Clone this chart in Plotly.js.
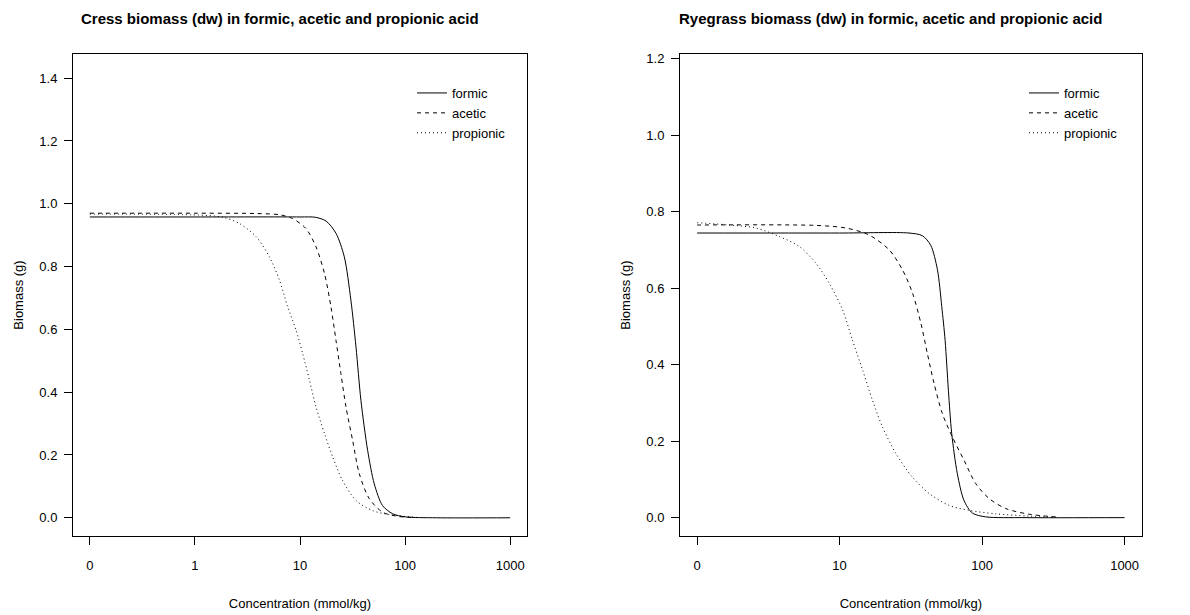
<!DOCTYPE html>
<html>
<head>
<meta charset="utf-8">
<script src="https://cdn.plot.ly/plotly-3.0.1.min.js"></script>
<style>html,body{margin:0;padding:0;background:#fff;}</style>
</head>
<body>
<div id="chart" style="width:1190px;height:615px;"></div>
<script>
// ---------- data ----------
const panelTitles = [
  "Cress biomass (dw) in formic, acetic and propionic acid",
  "Ryegrass biomass (dw) in formic, acetic and propionic acid"
];
const xAxisTitle = "Concentration (mmol/kg)";
const yAxisTitle = "Biomass (g)";
const seriesNames = ["formic", "acetic", "propionic"];

// x tick labels (the "0" dose is drawn one decade below the first non-zero tick)
const cressTickVals = [0.1, 1, 10, 100, 1000];
const cressTickText = ["0", "1", "10", "100", "1000"];
const ryeTickVals = [1, 10, 100, 1000];
const ryeTickText = ["0", "10", "100", "1000"];
const cressZeroPos = 0.1;
const ryeZeroPos = 1;
const cressYTicks = [0, 0.2, 0.4, 0.6, 0.8, 1.0, 1.2, 1.4];
const ryeYTicks = [0, 0.2, 0.4, 0.6, 0.8, 1.0, 1.2];

// Cress
const cressFormicX = [0, 1, 10, 14, 17.7, 22, 26.4, 30.5, 34.1, 38, 44, 50.9, 61, 76, 100, 200, 1000];
const cressFormicY = [0.958, 0.958, 0.958, 0.957, 0.945, 0.906, 0.831, 0.693, 0.544, 0.374, 0.215, 0.108, 0.039, 0.013, 0.003, 0.0, 0.0];
const cressAceticX = [0, 1, 3.8, 6.4, 8.5, 11.4, 14.2, 17.1, 19.7, 22, 24.5, 27.4, 31.7, 36.7, 45.6, 61, 88, 130];
const cressAceticY = [0.970, 0.970, 0.969, 0.965, 0.953, 0.921, 0.863, 0.778, 0.672, 0.565, 0.459, 0.353, 0.246, 0.140, 0.061, 0.018, 0.004, 0.001];
const cressPropX = [0, 1.1, 1.85, 2.66, 3.83, 5.12, 6.37, 7.64, 9.18, 10.6, 12.3, 14.2, 17.1, 20.5, 25.4, 34.1, 49, 70.6, 122];
const cressPropY = [0.967, 0.964, 0.957, 0.937, 0.895, 0.831, 0.757, 0.672, 0.597, 0.523, 0.438, 0.353, 0.268, 0.193, 0.119, 0.055, 0.023, 0.010, 0.002];

// Ryegrass
const ryeFormicX = [0, 10, 30.7, 38.1, 43.6, 48.6, 52.1, 55, 58, 61.2, 67, 74.6, 85.4, 106, 200, 1000];
const ryeFormicY = [0.744, 0.744, 0.744, 0.737, 0.712, 0.648, 0.552, 0.464, 0.333, 0.220, 0.115, 0.045, 0.012, 0.002, 0.0, 0.0];
const ryeAceticX = [0, 1, 6.8, 11.1, 16.1, 22.3, 27.6, 32.5, 37.2, 41.3, 46, 52.6, 61.8, 74.7, 90.2, 112, 146, 213, 328];
const ryeAceticY = [0.765, 0.765, 0.764, 0.757, 0.739, 0.700, 0.648, 0.587, 0.508, 0.429, 0.351, 0.272, 0.211, 0.150, 0.089, 0.050, 0.024, 0.009, 0.002];
const ryePropX = [0, 1.68, 2.59, 3.77, 5.21, 6.82, 8.45, 10.5, 12.3, 14.5, 17, 20, 24.8, 32.4, 42.5, 58.6, 81, 124, 213, 328];
const ryePropY = [0.771, 0.765, 0.757, 0.735, 0.709, 0.665, 0.613, 0.543, 0.464, 0.386, 0.307, 0.237, 0.168, 0.106, 0.063, 0.032, 0.019, 0.010, 0.004, 0.001];

// ---------- styling ----------
const FONT = "Liberation Sans, Arial, Helvetica, sans-serif";
const dashes = ["solid", "4px,4px", "1px,3px"];
const W = 1190, H = 615;

function mk(x, y, idx, xa, ya, leg, zero) {
  return {
    type: "scatter", mode: "lines",
    x: x.map(v => v === 0 ? zero : v), y: y,
    name: seriesNames[idx],
    line: {color: "black", width: 1, dash: dashes[idx], shape: "spline", smoothing: 0.8},
    xaxis: xa, yaxis: ya, legend: leg,
    hoverinfo: "x+y+name"
  };
}

const data = [
  mk(cressFormicX, cressFormicY, 0, "x", "y", "legend", cressZeroPos),
  mk(cressAceticX, cressAceticY, 1, "x", "y", "legend", cressZeroPos),
  mk(cressPropX, cressPropY, 2, "x", "y", "legend", cressZeroPos),
  mk(ryeFormicX, ryeFormicY, 0, "x2", "y2", "legend2", ryeZeroPos),
  mk(ryeAceticX, ryeAceticY, 1, "x2", "y2", "legend2", ryeZeroPos),
  mk(ryePropX, ryePropY, 2, "x2", "y2", "legend2", ryeZeroPos)
];

function xaxisCfg(domain, range, vals, text) {
  return {
    type: "log", domain: domain, range: range,
    tickmode: "array", tickvals: vals, ticktext: text,
    ticks: "outside", ticklen: 8, tickwidth: 1, tickcolor: "black",
    showline: true, mirror: true, linecolor: "black", linewidth: 1,
    showgrid: false, zeroline: false,
    tickfont: {family: FONT, size: 13, color: "black"},
    ticklabelstandoff: 9,
    title: {text: xAxisTitle, font: {family: FONT, size: 13, color: "black"}, standoff: 27},
    automargin: false, fixedrange: true
  };
}
function yaxisCfg(domain, range, vals, anchor) {
  return {
    domain: domain, range: range, anchor: anchor,
    tickmode: "array", tickvals: vals, ticktext: vals.map(v => v.toFixed(1)),
    ticks: "outside", ticklen: 8, tickwidth: 1, tickcolor: "black",
    showline: true, mirror: true, linecolor: "black", linewidth: 1,
    showgrid: false, zeroline: false,
    tickfont: {family: FONT, size: 13, color: "black"},
    ticklabelstandoff: 4,
    title: {text: yAxisTitle, font: {family: FONT, size: 13, color: "black"}, standoff: 12},
    automargin: false, fixedrange: true
  };
}

const yDom = [1 - 536 / H, 1 - 54 / H];
const legendCommon = {
  xanchor: "left", yanchor: "top",
  bgcolor: "rgba(0,0,0,0)", borderwidth: 0,
  font: {family: FONT, size: 13, color: "black"},
  tracegroupgap: 0, itemwidth: 30
};

const layout = {
  width: W, height: H,
  margin: {l: 0, r: 0, t: 0, b: 0},
  paper_bgcolor: "white", plot_bgcolor: "white",
  font: {family: FONT, size: 13, color: "black"},
  showlegend: true,
  xaxis: Object.assign(xaxisCfg([73 / W, 527 / W], [-1.16, 3.16], cressTickVals, cressTickText), {anchor: "y"}),
  yaxis: yaxisCfg(yDom, [-0.058, 1.477], cressYTicks, "x"),
  xaxis2: Object.assign(xaxisCfg([680 / W, 1141.7 / W], [-0.12, 3.12], ryeTickVals, ryeTickText), {anchor: "y2"}),
  yaxis2: yaxisCfg(yDom, [-0.048, 1.212], ryeYTicks, "x2"),
  legend: Object.assign({x: 412 / W, y: 1 - 78 / H}, legendCommon),
  legend2: Object.assign({x: 1024 / W, y: 1 - 78 / H}, legendCommon),
  annotations: [
    {text: "<b>" + panelTitles[0] + "</b>", xref: "paper", yref: "paper",
     x: 280 / W, y: 1 - 18 / H, xanchor: "center", yanchor: "middle", showarrow: false,
     font: {family: FONT, size: 15, color: "black"}},
    {text: "<b>" + panelTitles[1] + "</b>", xref: "paper", yref: "paper",
     x: 890 / W, y: 1 - 18 / H, xanchor: "center", yanchor: "middle", showarrow: false,
     font: {family: FONT, size: 15, color: "black"}}
  ]
};

Plotly.newPlot("chart", data, layout, {displayModeBar: false, staticPlot: false});
</script>
</body>
</html>
